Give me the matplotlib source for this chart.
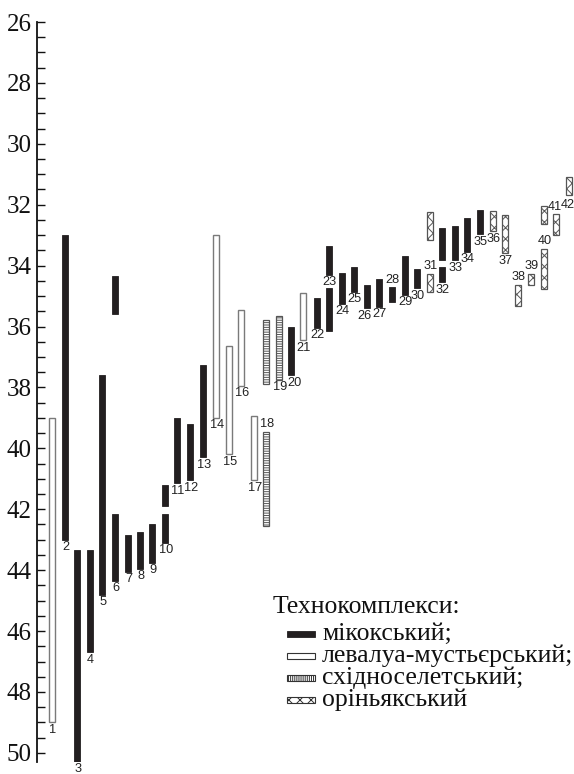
import matplotlib.pyplot as plt
from matplotlib.patches import Rectangle

# site labels, x position along the chart, top and bottom of each age range
labels = ['1', '2', '3', '4', '5', '6', '', '7', '8', '9', '10', '', '11', '12', '13',
          '14', '15', '16', '17', '18', '', '19', '20', '21', '22', '23', '', '24', '25',
          '26', '27', '28', '29', '30', '31', '', '32', '', '33', '34', '35', '36', '37',
          '38', '39', '40', '', '41', '42']
xpos = [52, 65, 77, 90, 102, 115, 115, 128, 140, 152, 165, 165, 177, 190, 203,
        216, 229, 241, 254, 266, 266, 279, 291, 303, 317, 329, 329, 342, 354,
        367, 379, 392, 405, 417, 430, 430, 442, 442, 455, 467, 480, 493, 505,
        518, 531, 544, 544, 556, 569]
tops = [39.0, 33.0, 43.35, 43.35, 37.6, 42.15, 34.35, 42.85, 42.75, 42.5, 42.15, 41.2, 39.0, 39.2, 37.25,
        33.0, 36.65, 35.45, 38.95, 39.45, 35.8, 35.65, 36.0, 34.9, 35.05, 33.35, 34.75, 34.25, 34.05,
        34.65, 34.45, 34.7, 33.7, 34.1, 34.27, 32.25, 34.03, 32.78, 32.7, 32.43, 32.18, 32.22, 32.33,
        34.62, 34.27, 33.44, 32.05, 32.32, 31.1]
bottoms = [49.0, 43.0, 50.3, 46.7, 44.8, 44.35, 35.6, 44.05, 43.95, 43.75, 43.1, 41.9, 41.15, 41.05, 40.3,
           39.0, 40.2, 37.95, 41.05, 42.55, 37.9, 37.75, 37.6, 36.45, 36.05, 34.3, 36.15, 35.25, 34.85,
           35.4, 35.35, 35.2, 34.95, 34.75, 34.85, 33.15, 34.55, 33.8, 33.83, 33.55, 32.97, 32.87, 33.6,
           35.33, 34.63, 34.76, 32.62, 33.0, 31.69]
# m - мікокський, l - левалуа-мустьєрський, s - східноселетський, o - оріньякський
kinds = ['l', 'm', 'm', 'm', 'm', 'm', 'm', 'm', 'm', 'm', 'm', 'm', 'm', 'm', 'm',
         'l', 'l', 'l', 'l', 's', 's', 's', 'm', 'l', 'm', 'm', 'm', 'm', 'm',
         'm', 'm', 'm', 'm', 'm', 'o', 'o', 'm', 'm', 'm', 'm', 'm', 'o', 'o',
         'o', 'o', 'o', 'o', 'o', 'o']
label_above = ['18', '28', '31', '38', '39', '40', '41']

legend_title = 'Технокомплекси:'
legend_names = ['мікокський;', 'левалуа-мустьєрський;', 'східноселетський;', 'оріньякський']

styles = {
    'm': dict(facecolor='#231f20', edgecolor='#231f20', hatch=None, linewidth=0.6),
    'l': dict(facecolor='white', edgecolor='#7a7a7a', hatch=None, linewidth=1.0),
    's': dict(facecolor='white', edgecolor='#555555', hatch='-------', linewidth=0.9),
    'o': dict(facecolor='white', edgecolor='#555555', hatch='xxx', linewidth=0.9),
}
legend_styles = {
    'm': dict(facecolor='#231f20', edgecolor='#231f20', hatch=None, linewidth=0.6),
    'l': dict(facecolor='white', edgecolor='#333333', hatch=None, linewidth=0.8),
    's': dict(facecolor='white', edgecolor='#333333', hatch='||||||||', linewidth=0.8),
    'o': dict(facecolor='white', edgecolor='#333333', hatch='xxx', linewidth=0.8),
}
# small nudges (points) for crowded labels
label_dx = {'20': 2.5, '26': -1.5, '27': 0.5, '41': -1, '42': -1}
label_dy = {'42': -2.5}

plt.rcParams['hatch.linewidth'] = 0.7

W, H = 574, 774
fig = plt.figure(figsize=(W / 100, H / 100), dpi=100)
ax = fig.add_axes([37 / W, 1 - 762 / H, (W - 37) / W, 740 / H])

for lab, x, t, b, k in zip(labels, xpos, tops, bottoms, kinds):
    ax.bar(x, b - t, bottom=t, width=6.5, **styles[k])
    if lab:
        dx = label_dx.get(lab, 0.5)
        if lab in label_above:
            ax.annotate(lab, (x, t), xytext=(dx, 1), textcoords='offset points',
                        ha='center', va='bottom', fontsize=9.2,
                        family='Liberation Sans', color='#222222')
        else:
            ax.annotate(lab, (x, b), xytext=(dx, label_dy.get(lab, -1)),
                        textcoords='offset points', ha='center', va='top',
                        fontsize=9.2, family='Liberation Sans', color='#222222')

ax.set_xlim(37, W)
ax.set_ylim(50.3, 26)
ax.set_yticks(range(26, 51, 2))
ax.set_yticks([v / 2 for v in range(52, 101)], minor=True)
ax.tick_params(axis='y', which='both', direction='in', length=6, width=1.0,
               pad=4, labelsize=18, colors='#111111')
for lab in ax.get_yticklabels():
    lab.set_family('Liberation Serif')
ax.set_xticks([])
for side in ['top', 'right', 'bottom']:
    ax.spines[side].set_visible(False)
ax.spines['left'].set_linewidth(1.3)
ax.spines['left'].set_color('#111111')

# legend drawn by hand
fig.text(273 / W, 1 - 613 / H, legend_title, family='Liberation Serif',
         fontsize=18.5, va='baseline', ha='left', color='#111111')
for i, (k, name) in enumerate(zip(['m', 'l', 's', 'o'], legend_names)):
    yc = 634 + 22 * i
    fig.patches.append(Rectangle((287 / W, 1 - (yc + 3) / H), 28 / W, 6 / H,
                                 transform=fig.transFigure, figure=fig, **legend_styles[k]))
    fig.text(322 / W, 1 - yc / H, name, family='Liberation Serif', fontsize=18.5,
             va='center', ha='left', color='#111111')

fig.savefig('out.png', dpi=100)
